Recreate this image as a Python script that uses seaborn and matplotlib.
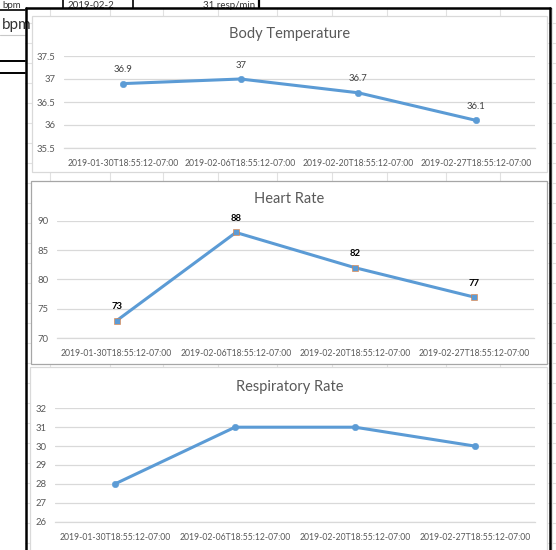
import matplotlib
matplotlib.use("Agg")
import matplotlib.pyplot as plt
from matplotlib.patches import Rectangle
import seaborn as sns
import pandas as pd

# ---- data ----
dates = [
    "2019-01-30T18:55:12-07:00",
    "2019-02-06T18:55:12-07:00",
    "2019-02-20T18:55:12-07:00",
    "2019-02-27T18:55:12-07:00",
]
body_temp = [36.9, 37.0, 36.7, 36.1]
heart_rate = [73, 88, 82, 77]
resp_rate = [28, 31, 31, 30]

sns.set_theme(style="white")
plt.rcParams["font.family"] = ["Lato", "DejaVu Sans"]

W, H = 556, 550
fig = plt.figure(figsize=(W / 100, H / 100), dpi=100)
fig.patch.set_facecolor("white")

# ---- worksheet backdrop in pixel coordinates ----
bg = fig.add_axes([0, 0, 1, 1])
bg.set_xlim(0, W)
bg.set_ylim(H, 0)
bg.axis("off")

grid_c = "#e1e1e1"
for x in [50, 110, 163, 218, 277, 332, 387, 446, 500, 552]:
    bg.plot([x, x], [8, H], color=grid_c, lw=0.8, zorder=1)
for y in range(23, H, 20):
    bg.plot([25, W], [y, y], color=grid_c, lw=0.8, zorder=1)

# cells to the upper left of the chart block
bg.plot([0, 25], [35, 35], color="#c8c8c8", lw=0.8, zorder=2)
bg.plot([0, 25], [10, 10], color="black", lw=1.2, zorder=2)
bg.plot([0, 25], [60.5, 60.5], color="black", lw=1.4, zorder=2)
bg.plot([0, 25], [72.5, 72.5], color="black", lw=1.4, zorder=2)
bg.plot([63, 63], [0, 8], color="black", lw=1.2, zorder=2)
bg.plot([133, 133], [0, 8], color="black", lw=1.2, zorder=2)
bg.plot([259, 259], [0, 8], color="black", lw=1.6, zorder=2)
cell_kw = dict(fontsize=7, color="#333333", va="baseline", zorder=2)
bg.text(2, 7.8, "bpm", ha="left", **cell_kw)
bg.text(67, 7.8, "2019-02-2", ha="left", **cell_kw)
bg.text(255, 7.8, "31 resp/min", ha="right", **cell_kw)
bg.text(2, 29, "bpm", fontsize=11, color="#333333", va="baseline", ha="left", zorder=2)

# outer selection frame
bg.plot([25.5, 25.5], [7.5, H + 5], color="black", lw=1.8, zorder=3)
bg.plot([25.5, 549.5], [7.5, 7.5], color="black", lw=1.8, zorder=3)
bg.plot([549.5, 549.5], [7.5, H + 5], color="black", lw=1.8, zorder=3)

# chart panels
panels = [
    (32, 16, 547, 172, "#d9d9d9"),
    (31, 181, 547, 364, "#a6a6a6"),
    (30, 367, 547, 565, "#d9d9d9"),
]
for l, t, r, b, ec in panels:
    bg.add_patch(Rectangle((l, t), r - l, b - t, facecolor="white",
                           edgecolor=ec, lw=0.9, zorder=4))


def px_axes(left, top, right, bottom):
    return fig.add_axes([left / W, 1 - bottom / H, (right - left) / W, (bottom - top) / H])


line_c = "#5b9bd5"
text_c = "#595959"
gridline_c = "#d9d9d9"


def draw_chart(ax, values, ylim, step, title, title_y, marker, label_style, medge):
    df = pd.DataFrame({"date": dates, "value": values})
    sns.lineplot(data=df, x="date", y="value", ax=ax, color=line_c, linewidth=2.2,
                 marker=marker, markersize=4.6, markeredgecolor=medge,
                 markeredgewidth=0.4, sort=False)
    ax.set_xlim(-0.5, len(dates) - 0.5)
    ax.set_ylim(*ylim)
    ticks = []
    v = ylim[0]
    while v <= ylim[1] + 1e-9:
        ticks.append(round(v, 3))
        v += step
    ax.set_yticks(ticks)
    ax.set_yticklabels([f"{t:g}" for t in ticks])
    ax.set_xticks(range(len(dates)))
    ax.set_xticklabels(dates)
    ax.set_xlabel("")
    ax.set_ylabel("")
    ax.set_facecolor("none")
    ax.grid(axis="y", color=gridline_c, lw=0.9)
    ax.grid(axis="x", visible=False)
    ax.set_axisbelow(True)
    for s in ["top", "left", "right"]:
        ax.spines[s].set_visible(False)
    ax.spines["bottom"].set_color(gridline_c)
    ax.spines["bottom"].set_linewidth(0.9)
    ax.tick_params(axis="both", length=0, colors=text_c)
    ax.tick_params(axis="x", pad=8, labelsize=6.2)
    ax.tick_params(axis="y", pad=6, labelsize=6.8)
    if label_style is not None:
        for i, val in enumerate(values):
            ax.annotate(f"{val:g}", (i, val), xytext=(0, 14), textcoords="offset pixels",
                        ha="center", va="center", fontsize=6.8, **label_style)
    bg.text(289.5, title_y, title, fontsize=10.5, color=text_c, ha="center",
            va="center", zorder=5)


ax1 = px_axes(64, 56, 535, 148)
draw_chart(ax1, body_temp, (35.5, 37.5), 0.5, "Body Temperature", 34, "o",
           {"color": "#404040"}, line_c)

ax2 = px_axes(57, 220.7, 534, 338.3)
draw_chart(ax2, heart_rate, (70, 90), 5, "Heart Rate", 199, "s",
           {"color": "black", "fontweight": "bold"}, "#ed7d31")

ax3 = px_axes(55, 408.3, 535, 521.7)
draw_chart(ax3, resp_rate, (26, 32), 1, "Respiratory Rate", 387, "o", None, line_c)

fig.savefig("out.png", dpi=100)
